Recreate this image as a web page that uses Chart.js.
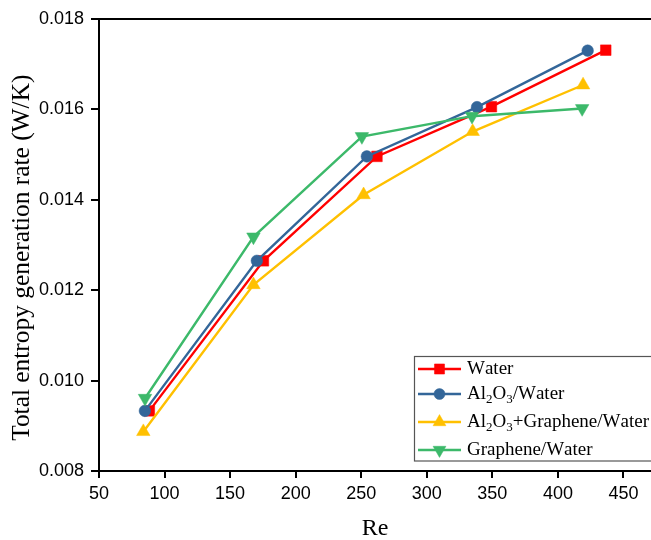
<!DOCTYPE html>
<html>
<head>
<meta charset="utf-8">
<script src="https://cdn.jsdelivr.net/npm/chart.js@4/dist/chart.umd.min.js"></script>
<style>
  html, body { margin: 0; padding: 0; background: #ffffff; }
  #wrap { width: 651px; height: 540px; position: relative; }
</style>
</head>
<body>
<div id="wrap"><canvas id="c" width="651" height="540"></canvas></div>
<script>
// ---- data ----
const waterRe      = [88.4, 175.4, 262.0, 349.3, 436.5];
const waterS       = [0.00933, 0.01265, 0.01496, 0.01606, 0.01731];
const al2o3Re      = [85.0, 170.4, 254.3, 338.3, 422.7];
const al2o3S       = [0.00933, 0.01265, 0.01496, 0.01605, 0.01730];
const hybridRe     = [83.8, 167.8, 251.8, 335.0, 419.2];
const hybridS      = [0.00887, 0.01212, 0.01411, 0.01551, 0.01654];
const grapheneRe   = [85.1, 167.8, 250.5, 334.5, 418.5];
const grapheneS    = [0.00961, 0.01318, 0.01540, 0.01585, 0.01602];

const seriesLabels = ['Water', 'Al\u2082O\u2083/Water', 'Al\u2082O\u2083+Graphene/Water', 'Graphene/Water'];
const xTicks = [50, 100, 150, 200, 250, 300, 350, 400, 450];
const yTicks = [0.008, 0.010, 0.012, 0.014, 0.016, 0.018];
const xTitle = 'Re';
const yTitle = 'Total entropy generation rate (W/K)';

const colors = ['#FF0000', '#336699', '#FFC000', '#3CB96A'];
const styles = [
  { pointStyle: 'rect', radius: 7.5, rotation: 0 },
  { pointStyle: 'circle', radius: 5.8, rotation: 0 },
  { pointStyle: 'triangle', radius: 7.8, rotation: 0 },
  { pointStyle: 'triangle', radius: 7.8, rotation: 180 }
];
const drawOrder = [3, 2, 1, 0];

function pts(xs, ys) { return xs.map((x, i) => ({ x: x, y: ys[i] })); }
const seriesData = [pts(waterRe, waterS), pts(al2o3Re, al2o3S), pts(hybridRe, hybridS), pts(grapheneRe, grapheneS)];

const datasets = seriesData.map((d, i) => ({
  label: seriesLabels[i],
  data: d,
  showLine: true,
  borderColor: colors[i],
  backgroundColor: colors[i],
  borderWidth: 2.4,
  pointStyle: styles[i].pointStyle,
  pointRadius: styles[i].radius,
  pointRotation: styles[i].rotation,
  pointBorderWidth: 0.5,
  pointBackgroundColor: colors[i],
  pointBorderColor: colors[i],
  order: drawOrder[i],
  clip: false
}));

// ---- custom plugins: top frame line, legend with subscripts ----
const frameTop = {
  id: 'frameTop',
  afterDraw(chart) {
    const { ctx, chartArea } = chart;
    ctx.save();
    ctx.strokeStyle = '#000';
    ctx.lineWidth = 2;
    ctx.beginPath();
    ctx.moveTo(chartArea.left - 1, chartArea.top);
    ctx.lineTo(chartArea.right + 2, chartArea.top);
    ctx.stroke();
    ctx.restore();
  }
};

function drawRichText(ctx, text, x, y, size) {
  const normal = size + 'px "Liberation Serif", "Times New Roman", serif';
  const small = Math.round(size * 0.68) + 'px "Liberation Serif", "Times New Roman", serif';
  const subMap = { '\u2082': '2', '\u2083': '3' };
  let cx = x;
  for (const ch of text) {
    if (subMap[ch]) {
      ctx.font = small;
      ctx.fillText(subMap[ch], cx, y + size * 0.3);
      cx += ctx.measureText(subMap[ch]).width;
    } else {
      ctx.font = normal;
      ctx.fillText(ch, cx, y);
      cx += ctx.measureText(ch).width;
    }
  }
}

const customLegend = {
  id: 'customLegend',
  afterDraw(chart) {
    const { ctx } = chart;
    const rowsY = [369, 394, 422, 450];
    ctx.save();
    ctx.fillStyle = '#ffffff';
    ctx.fillRect(414, 356, 240, 105);
    ctx.strokeStyle = '#555555';
    ctx.lineWidth = 1.2;
    ctx.strokeRect(414.5, 356.5, 240, 104.5);
    chart.data.datasets.forEach((ds, i) => {
      const y = rowsY[i];
      ctx.strokeStyle = ds.borderColor;
      ctx.lineWidth = 2.4;
      ctx.beginPath();
      ctx.moveTo(418, y);
      ctx.lineTo(461, y);
      ctx.stroke();
      ctx.fillStyle = ds.borderColor;
      ctx.strokeStyle = ds.borderColor;
      ctx.lineWidth = 0.5;
      Chart.helpers.drawPoint(ctx, {
        pointStyle: ds.pointStyle,
        radius: ds.pointRadius * 0.95,
        rotation: ds.pointRotation,
        borderWidth: 0.5
      }, 439.5, y);
      ctx.fillStyle = '#000';
      ctx.textAlign = 'left';
      ctx.textBaseline = 'middle';
      drawRichText(ctx, ds.label, 467, y, 19);
    });
    ctx.restore();
  }
};

new Chart(document.getElementById('c'), {
  type: 'scatter',
  data: { datasets: datasets },
  options: {
    responsive: false,
    animation: false,
    devicePixelRatio: 1,
    layout: { autoPadding: false, padding: { top: 19, left: 0, right: 0, bottom: 0 } },
    plugins: { legend: { display: false }, tooltip: { enabled: false } },
    scales: {
      x: {
        type: 'linear',
        min: 50,
        max: 471,
        afterBuildTicks(scale) { scale.ticks = xTicks.map(v => ({ value: v })); },
        afterFit(scale) { scale.height = 69; },
        border: { display: true, color: '#000', width: 2 },
        grid: { display: true, drawOnChartArea: false, drawTicks: true, tickLength: 7, color: '#000', lineWidth: 2 },
        ticks: {
          color: '#000',
          padding: 5,
          maxRotation: 0,
          autoSkip: false,
          font: { family: '"Liberation Sans", Arial, sans-serif', size: 18 }
        },
        title: {
          display: true,
          text: xTitle,
          color: '#000',
          padding: 0,
          font: { family: '"Liberation Serif", "Times New Roman", serif', size: 24, lineHeight: 0.9 }
        }
      },
      y: {
        type: 'linear',
        min: 0.008,
        max: 0.018,
        afterBuildTicks(scale) { scale.ticks = yTicks.map(v => ({ value: v })); },
        afterFit(scale) { scale.width = 99; },
        border: { display: true, color: '#000', width: 2 },
        grid: { display: true, drawOnChartArea: false, drawTicks: true, tickLength: 8, color: '#000', lineWidth: 2 },
        ticks: {
          color: '#000',
          padding: 7,
          autoSkip: false,
          callback: (v) => Number(v).toFixed(3),
          font: { family: '"Liberation Sans", Arial, sans-serif', size: 18 }
        },
        title: {
          display: true,
          text: yTitle + '    ',
          color: '#000',
          padding: { top: 10, bottom: 0 },
          font: { family: '"Liberation Serif", "Times New Roman", serif', size: 25.4, lineHeight: 1 }
        }
      }
    }
  },
  plugins: [frameTop, customLegend]
});
</script>
</body>
</html>
